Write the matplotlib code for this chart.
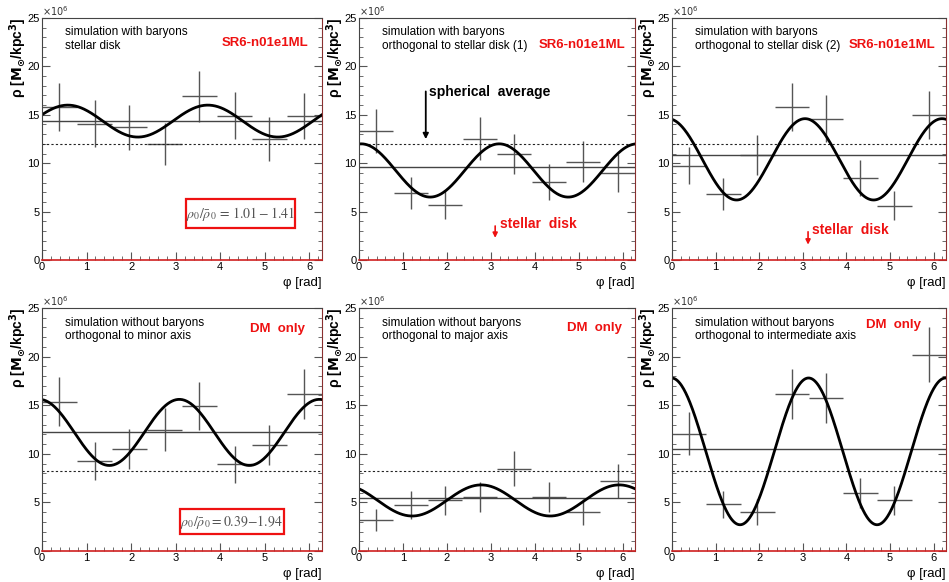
import numpy as np
import matplotlib
matplotlib.use("Agg")
import matplotlib.pyplot as plt
from matplotlib.patches import Rectangle
from matplotlib.ticker import MultipleLocator

plt.rcParams["font.family"] = ["Liberation Sans", "DejaVu Sans"]

# DATA (density in units of 1e6 Msun/kpc^3)
phi_bins = [0.39, 1.18, 1.96, 2.75, 3.53, 4.32, 5.10, 5.89]
bin_half = 0.3927

rho_p1 = [15.8, 14.1, 13.7, 12.0, 16.9, 14.9, 12.5, 14.9]
err_p1 = [2.5, 2.4, 2.35, 2.2, 2.6, 2.45, 2.25, 2.4]
rho_p2 = [13.35, 6.9, 5.65, 12.55, 10.95, 8.05, 10.15, 9.0]
err_p2 = [2.3, 1.65, 1.45, 2.25, 2.1, 1.85, 2.1, 2.0]
rho_p3 = [9.75, 6.85, 10.85, 15.8, 14.6, 8.45, 5.6, 15.0]
err_p3 = [1.95, 1.65, 2.1, 2.5, 2.45, 1.85, 1.5, 2.45]
rho_p4 = [15.35, 9.25, 10.5, 12.5, 14.95, 8.9, 10.9, 16.15]
err_p4 = [2.5, 1.95, 2.05, 2.2, 2.45, 1.9, 2.1, 2.55]
rho_p5 = [3.2, 4.75, 5.2, 5.55, 8.45, 5.55, 4.0, 7.2]
err_p5 = [1.15, 1.45, 1.45, 1.5, 1.8, 1.5, 1.35, 1.7]
rho_p6 = [12.05, 4.8, 4.0, 16.15, 15.75, 6.0, 5.2, 20.2]
err_p6 = [2.2, 1.4, 1.3, 2.55, 2.55, 1.55, 1.45, 2.85]

# fit rho = mean + amp*cos(2*(phi - phase))
fit_mean = [14.35, 9.25, 10.4, 12.2, 5.2, 10.25]
fit_amp = [1.65, 2.75, 4.2, 3.4, 1.6, 7.55]
fit_phase = [0.58, 0.05, -0.09, -0.06, -0.36, -0.01]

mean_level = [14.35, 9.58, 10.86, 12.26, 5.49, 10.5]
sph_level = [12.0, 12.0, 12.0, 8.25, 8.25, 8.25]

titles = ["simulation with baryons\nstellar disk",
          "simulation with baryons\northogonal to stellar disk (1)",
          "simulation with baryons\northogonal to stellar disk (2)",
          "simulation without baryons\northogonal to minor axis",
          "simulation without baryons\northogonal to major axis",
          "simulation without baryons\northogonal to intermediate axis"]
tags = ["SR6-n01e1ML", "SR6-n01e1ML", "SR6-n01e1ML", "DM  only", "DM  only", "DM  only"]
tag_pos = [(0.95, 0.895), (0.965, 0.89), (0.962, 0.89), (0.94, 0.913), (0.952, 0.916), (0.907, 0.93)]

rho_all = [rho_p1, rho_p2, rho_p3, rho_p4, rho_p5, rho_p6]
err_all = [err_p1, err_p2, err_p3, err_p4, err_p5, err_p6]

# LAYOUT (figure pixels)
W, H = 949, 582
lefts = [42, 359, 672]
rights = [322, 635, 946]
rows = [(18, 260), (308, 551)]

fig = plt.figure(figsize=(W / 100, H / 100), dpi=100)
axes = []
for r, (top, bot) in enumerate(rows):
    for c in range(3):
        ax = fig.add_axes([lefts[c] / W, 1 - bot / H, (rights[c] - lefts[c]) / W, (bot - top) / H])
        axes.append(ax)

phi_fine = np.linspace(0, 2 * np.pi, 400)

for i, ax in enumerate(axes):
    x = np.array(phi_bins)
    y = np.array(rho_all[i])
    e = np.array(err_all[i])
    ax.errorbar(x, y, xerr=bin_half, yerr=e, fmt="none", ecolor="#555555", elinewidth=1.0, capsize=0)
    ax.axhline(mean_level[i], color="#444444", lw=1.0)
    ax.axhline(sph_level[i], color="#222222", lw=0.8, ls=(0, (2, 2)))
    ax.plot(phi_fine, fit_mean[i] + fit_amp[i] * np.cos(2 * (phi_fine - fit_phase[i])), color="black", lw=2.0)

    ax.set_xlim(0, 2 * np.pi)
    ax.set_ylim(0, 25)
    ax.xaxis.set_major_locator(MultipleLocator(1))
    ax.xaxis.set_minor_locator(MultipleLocator(0.2))
    ax.yaxis.set_major_locator(MultipleLocator(5))
    ax.yaxis.set_minor_locator(MultipleLocator(1))
    ax.tick_params(which="both", direction="in", right=True, top=False, colors="#555555",
                   labelcolor="black", labelsize=8, pad=1.5)
    ax.tick_params(which="major", length=6)
    ax.tick_params(which="minor", length=3)
    for s in ["left", "top"]:
        ax.spines[s].set_color("#444444")
    ax.spines["right"].set_color("#8a3030")
    ax.spines["bottom"].set_color("#d02020")
    ax.spines["bottom"].set_linewidth(1.2)

    w_px = rights[i % 3] - lefts[i % 3]
    h_px = rows[i // 3][1] - rows[i // 3][0]
    ax.text(-24 / w_px, 1.0, r"ρ [$\mathbf{M_{\odot}}$/kpc$^{\mathbf{3}}$]", transform=ax.transAxes,
            rotation=90, ha="center", va="top", fontsize=10, fontweight="bold")
    ax.text(0.0, 1.0, r"$\times10^{6}$", transform=ax.transAxes, ha="left", va="bottom",
            fontsize=7, color="#333333")
    ax.text(1.0, -23 / h_px, "φ [rad]", transform=ax.transAxes, ha="right", va="center",
            fontsize=9.5)
    ax.text(0.083, 0.965, titles[i], transform=ax.transAxes, ha="left", va="top", fontsize=8.5,
            linespacing=1.15)
    ax.text(tag_pos[i][0], tag_pos[i][1], tags[i], transform=ax.transAxes, ha="right", va="center",
            fontsize=9.5, fontweight="bold", color="#ee1111")

# ratio boxes
for ax, (x0, y0, x1, y1), txt in [(axes[0], (3.23, 3.28, 5.67, 6.28), r"$\rho_0/\bar{\rho}_0\,=\,1.01-1.41$"),
                                  (axes[3], (3.1, 1.71, 5.42, 4.28), r"$\rho_0/\bar{\rho}_0=0.39{-}1.94$")]:
    ax.add_patch(Rectangle((x0, y0), x1 - x0, y1 - y0, facecolor="white", edgecolor="#ee1111", lw=1.6, zorder=5))
    ax.text((x0 + x1) / 2, (y0 + y1) / 2, txt, ha="center", va="center", fontsize=10, color="#555555",
            math_fontfamily="stix", zorder=6)

# arrows
axes[1].annotate("", xy=(1.52, 12.2), xytext=(1.52, 17.7),
                 arrowprops=dict(arrowstyle="-|>", color="black", lw=1.3, mutation_scale=8))
axes[1].text(1.6, 17.4, "spherical  average", ha="left", va="center", fontsize=10, fontweight="bold")
for ax, (xa, ytop, ybot, ytxt) in [(axes[1], (3.1, 3.8, 2.0, 3.7)), (axes[2], (3.12, 3.2, 1.3, 3.1))]:
    ax.annotate("", xy=(xa, ybot), xytext=(xa, ytop),
                arrowprops=dict(arrowstyle="-|>", color="#ee1111", lw=1.2, mutation_scale=7))
    ax.text(xa + 0.1, ytxt, "stellar  disk", ha="left", va="center", fontsize=10, fontweight="bold",
            color="#ee1111")

plt.savefig("out.png", dpi=100)
